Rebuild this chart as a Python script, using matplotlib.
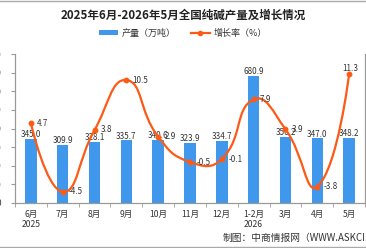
import numpy as np
import matplotlib.pyplot as plt
from matplotlib.path import Path
from matplotlib.patches import PathPatch, Patch
from matplotlib.lines import Line2D

plt.rcParams['font.family'] = ['Noto Sans CJK SC', 'DejaVu Sans']

months = ["6月\n2025", "7月", "8月", "9月", "10月", "11月", "12月", "1-2月\n2026", "3月", "4月", "5月"]
output = [345.0, 309.9, 328.1, 335.7, 340.6, 323.9, 334.7, 680.9, 356.2, 347.0, 348.2]
growth = [4.7, -4.5, 3.8, 10.5, 2.9, -0.5, -0.1, 7.9, 3.9, -3.8, 11.3]

bar_color = "#3f98ec"
line_color = "#fd5a16"
text_color = "#333333"

fig = plt.figure(figsize=(3.66, 2.48), dpi=100)
ax = fig.add_axes([15 / 366, 1 - 203 / 248, 350 / 366, 149 / 248])
ax2 = ax.twinx()

x = np.arange(len(months))
ax.bar(x, output, width=0.36, color=bar_color, zorder=2)
ax.set_xlim(-0.5, len(months) - 0.5)
ax.set_ylim(0, 800)
ax.set_yticks(range(0, 801, 100))
ax2.set_ylim(-6, 14)
ax2.set_yticks([])

for xi, v in zip(x, output):
    ax.text(xi, v + 23, f"{v:.1f}", ha="center", va="center", fontsize=5.8, color=text_color, zorder=5)

# smooth line through the points, echarts style bezier
fig.canvas.draw()
pts = ax2.transData.transform(np.column_stack([x, growth]))
smooth = 0.5
n = len(pts)
cps = []
for i in range(n):
    if i == 0 or i == n - 1:
        cps.append((pts[i], pts[i]))
        continue
    prev, cur, nxt = pts[i - 1], pts[i], pts[i + 1]
    v = nxt - prev
    d0 = np.hypot(*(cur - prev))
    d1 = np.hypot(*(nxt - cur))
    s = d0 + d1
    cps.append((cur - v * smooth * d0 / s, cur + v * smooth * d1 / s))
verts = [pts[0]]
codes = [Path.MOVETO]
for i in range(n - 1):
    verts += [cps[i][1], cps[i + 1][0], pts[i + 1]]
    codes += [Path.CURVE4] * 3
data_verts = ax2.transData.inverted().transform(np.array(verts))
ax2.add_patch(PathPatch(Path(data_verts, codes), fill=False, edgecolor=line_color, lw=1.6, zorder=3))
ax2.plot(x, growth, "o", color=line_color, markersize=3.2, zorder=4)

for xi, g in zip(x, growth):
    if xi == n - 1:
        ax2.text(xi + 0.05, g + 0.75, f"{g:.1f}", ha="center", va="center", fontsize=5.8,
                 color=text_color, zorder=5)
    else:
        ax2.text(xi + 0.2, g, f"{g:.1f}", ha="left", va="center", fontsize=5.8, color=text_color, zorder=5)

ax.set_xticks(x)
ax.set_xticklabels(months, fontsize=6.2, color=text_color, linespacing=1.1)
ax.set_xticks(np.arange(-0.5, len(months), 1), minor=True)
ax.tick_params(axis="x", which="major", length=0, pad=5)
ax.tick_params(axis="x", which="minor", length=3, color="#999999")
ax.tick_params(axis="y", length=3, color="#999999", labelsize=6, labelcolor=text_color, pad=7)

for a in (ax, ax2):
    a.spines["top"].set_visible(False)
    for s in ("left", "right", "bottom"):
        a.spines[s].set_color("#999999")
        a.spines[s].set_linewidth(0.8)
    a.set_facecolor("none")

fig.text(0.5, 1 - 15 / 248, "2025年6月-2026年5月全国纯碱产量及增长情况", ha="center", va="center",
         fontsize=8.3, fontweight="bold", color="#222222")

handles = [Patch(facecolor=bar_color, edgecolor="none"),
           Line2D([0], [0], color=line_color, lw=1.6, marker="o", markersize=3)]
fig.legend(handles, ["产量（万吨）", "增长率（%）"], loc="center", bbox_to_anchor=(0.5, 1 - 33 / 248),
           ncol=2, frameon=False, fontsize=6.5, handlelength=2.2, handleheight=0.5, columnspacing=1.6,
           handletextpad=0.4, labelcolor=text_color)

fig.text(223 / 366, 1 - 238 / 248, "制图：中商情报网（WWW.ASKCI.COM）", ha="left", va="center",
         fontsize=7, color=text_color)

fig.add_artist(Line2D([0, 1], [1 - 1 / 248, 1 - 1 / 248], color="#aaaaaa", lw=1))
fig.add_artist(Line2D([0, 1], [1 / 248, 1 / 248], color="#aaaaaa", lw=1))

fig.savefig("out.png", dpi=100)
